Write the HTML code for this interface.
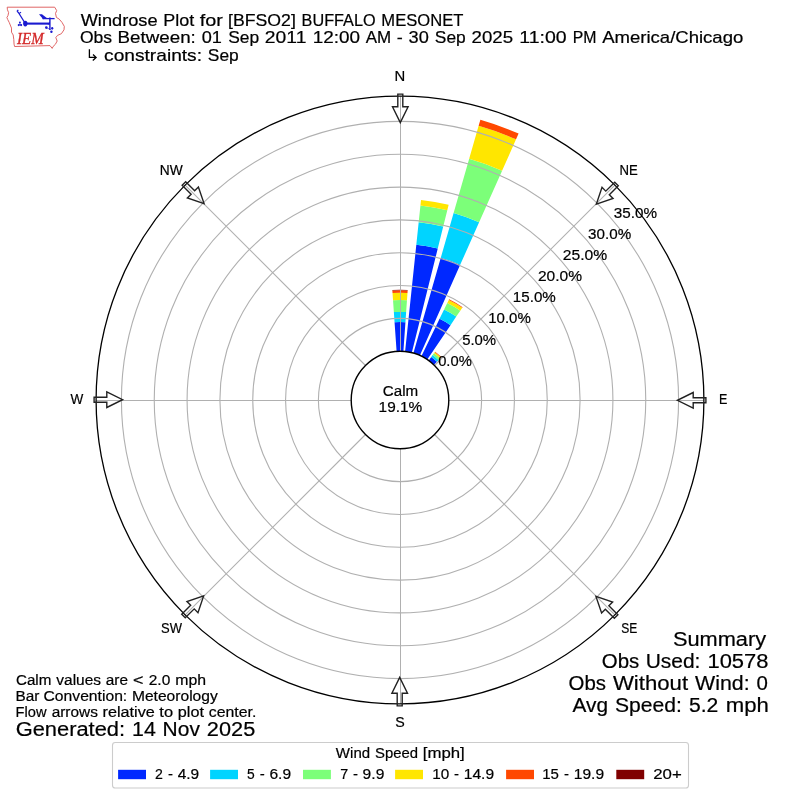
<!DOCTYPE html>
<html><head><meta charset="utf-8"><style>
html,body{margin:0;padding:0;background:#fff;width:800px;height:800px;overflow:hidden}
svg{display:block;will-change:transform}
</style></head><body>
<svg width="800" height="800" viewBox="0 0 800 800" font-family="Liberation Sans, sans-serif" fill="#000">
<rect width="800" height="800" fill="#fff"/>
<g id="logo">
<path d="M7.2 7.2 L54.7 7.2 L56.7 10.6 L55.5 13.4 L56.4 17.4 L59.2 19.1 L62 22.4 L64.3 26.4 L64 29.8 L61.4 33.7 L57.5 35.4 L55.8 37.6 L57.2 41 L55.3 44.4 L53 46.6 L52.2 48.4 L50 45.6 L14.6 46.5 L14.05 44.2 L13.8 39.6 L13.2 35 L11.5 32.2 L11.5 28.1 L9.2 22.4 L7.7 19.5 L6.9 17.5 L8 15.5 L8.6 12.6 L7.45 9.75 Z" fill="none" stroke="#dd5555" stroke-width="0.9" stroke-linejoin="round"/>
<text x="17" y="43.8" font-family="Liberation Serif, serif" font-style="italic" font-size="16.4" fill="#d42a2a" stroke="#d42a2a" stroke-width="0.35" textLength="26.6" lengthAdjust="spacingAndGlyphs">IEM</text>
<g fill="#1a1ad0" stroke="#1a1ad0">
<line x1="25" y1="23.6" x2="49.5" y2="23.6" stroke-width="2.1"/>
<ellipse cx="25.3" cy="23.6" rx="2.2" ry="2.8" stroke="none"/>
<line x1="25" y1="23" x2="18.1" y2="12" stroke-width="1.3"/>
<path d="M18.1 12.4 L17.2 11 L18.3 9.8 M19.1 13.6 L21 12.1" fill="none" stroke-width="1.2"/>
<line x1="49.9" y1="17.6" x2="49.9" y2="30" stroke-width="1.4"/>
<line x1="42.5" y1="18.6" x2="54.6" y2="18.6" stroke-width="1.3"/>
<path d="M39 14.2 L42 14.2 L46.8 17.9 L43.2 19.2 Z" stroke="none"/>
<path d="M47.5 24.6 L50 21.5 L50 24.6 Z" stroke="none"/>
<circle cx="18.8" cy="25.1" r="1.1" stroke="none"/><circle cx="21.1" cy="25.1" r="1.1" stroke="none"/><circle cx="19.9" cy="22.4" r="0.95" stroke="none"/><path d="M19.9 23.2 L18.6 24.6 L21.3 24.6 Z" stroke="none"/>
<circle cx="46.3" cy="27.6" r="1.3" stroke="none"/><ellipse cx="52.2" cy="28.3" rx="1.1" ry="1.4" stroke="none"/><ellipse cx="51.4" cy="31.7" rx="1.2" ry="1.3" stroke="none"/><path d="M47 28 L50.5 29.5" stroke-width="0.6" fill="none"/>
</g>
</g>
<path d="M396.6 351.35L394.56 322.19A78 78 0 0 1 405.44 322.19L403.4 351.35A48.77 48.77 0 0 0 396.6 351.35Z" fill="#0028ff"/>
<path d="M394.56 322.19L393.85 312.11A88.1 88.1 0 0 1 406.15 312.11L405.44 322.19A78 78 0 0 0 394.56 322.19Z" fill="#00d4ff"/>
<path d="M393.85 312.11L393.03 300.34A99.9 99.9 0 0 1 406.97 300.34L406.15 312.11A88.1 88.1 0 0 0 393.85 312.11Z" fill="#7cff79"/>
<path d="M393.03 300.34L392.52 293.06A107.2 107.2 0 0 1 407.48 293.06L406.97 300.34A99.9 99.9 0 0 0 393.03 300.34Z" fill="#ffe600"/>
<path d="M392.52 293.06L392.35 290.57A109.7 109.7 0 0 1 407.65 290.57L407.48 293.06A107.2 107.2 0 0 0 392.52 293.06Z" fill="#ff4800"/>
<path d="M392.35 290.57L392.31 290.07A110.2 110.2 0 0 1 407.69 290.07L407.65 290.57A109.7 109.7 0 0 0 392.35 290.57Z" fill="#800000"/>
<path d="M405.1 351.5L416.32 244.76A156.1 156.1 0 0 1 437.76 248.54L411.8 352.68A48.77 48.77 0 0 0 405.1 351.5Z" fill="#0028ff"/>
<path d="M416.32 244.76L418.68 222.28A178.7 178.7 0 0 1 443.23 226.61L437.76 248.54A156.1 156.1 0 0 0 416.32 244.76Z" fill="#00d4ff"/>
<path d="M418.68 222.28L420.44 205.57A195.5 195.5 0 0 1 447.3 210.31L443.23 226.61A178.7 178.7 0 0 0 418.68 222.28Z" fill="#7cff79"/>
<path d="M420.44 205.57L421.02 200A201.1 201.1 0 0 1 448.65 204.87L447.3 210.31A195.5 195.5 0 0 0 420.44 205.57Z" fill="#ffe600"/>
<path d="M413.44 353.12L440.79 257.73A148 148 0 0 1 460.2 264.8L419.84 355.45A48.77 48.77 0 0 0 413.44 353.12Z" fill="#0028ff"/>
<path d="M440.79 257.73L453.61 213.03A194.5 194.5 0 0 1 479.11 222.32L460.2 264.8A148 148 0 0 0 440.79 257.73Z" fill="#00d4ff"/>
<path d="M453.61 213.03L469.18 158.72A251 251 0 0 1 502.09 170.7L479.11 222.32A194.5 194.5 0 0 0 453.61 213.03Z" fill="#7cff79"/>
<path d="M469.18 158.72L478.64 125.75A285.3 285.3 0 0 1 516.04 139.37L502.09 170.7A251 251 0 0 0 469.18 158.72Z" fill="#ffe600"/>
<path d="M478.64 125.75L480.38 119.7A291.6 291.6 0 0 1 518.6 133.61L516.04 139.37A285.3 285.3 0 0 0 478.64 125.75Z" fill="#ff4800"/>
<path d="M421.38 356.17L439.58 318.84A90.3 90.3 0 0 1 450.5 325.14L427.27 359.57A48.77 48.77 0 0 0 421.38 356.17Z" fill="#0028ff"/>
<path d="M439.58 318.84L444.1 309.58A100.6 100.6 0 0 1 456.25 316.6L450.5 325.14A90.3 90.3 0 0 0 439.58 318.84Z" fill="#00d4ff"/>
<path d="M444.1 309.58L447.26 303.11A107.8 107.8 0 0 1 460.28 310.63L456.25 316.6A100.6 100.6 0 0 0 444.1 309.58Z" fill="#7cff79"/>
<path d="M447.26 303.11L448.79 299.96A111.3 111.3 0 0 1 462.24 307.73L460.28 310.63A107.8 107.8 0 0 0 447.26 303.11Z" fill="#ffe600"/>
<path d="M448.79 299.96L449.1 299.34A112 112 0 0 1 462.63 307.15L462.24 307.73A111.3 111.3 0 0 0 448.79 299.96Z" fill="#ff4800"/>
<path d="M428.67 360.54L431.27 356.96A53.2 53.2 0 0 1 436.96 361.73L433.88 364.92A48.77 48.77 0 0 0 428.67 360.54Z" fill="#0028ff"/>
<path d="M431.27 356.96L432.62 355.1A55.5 55.5 0 0 1 438.55 360.08L436.96 361.73A53.2 53.2 0 0 0 431.27 356.96Z" fill="#00d4ff"/>
<path d="M432.62 355.1L433.97 353.24A57.8 57.8 0 0 1 440.15 358.42L438.55 360.08A55.5 55.5 0 0 0 432.62 355.1Z" fill="#7cff79"/>
<path d="M433.97 353.24L434.74 352.19A59.1 59.1 0 0 1 441.05 357.49L440.15 358.42A57.8 57.8 0 0 0 433.97 353.24Z" fill="#ffe600"/>
<path d="M434.74 352.19L435.09 351.7A59.7 59.7 0 0 1 441.47 357.06L441.05 357.49A59.1 59.1 0 0 0 434.74 352.19Z" fill="#ff4800"/>
<g fill="none" stroke="#b0b0b0" stroke-width="1.1">
<circle cx="400" cy="400" r="81.6"/>
<circle cx="400" cy="400" r="114.43"/>
<circle cx="400" cy="400" r="147.26"/>
<circle cx="400" cy="400" r="180.09"/>
<circle cx="400" cy="400" r="212.92"/>
<circle cx="400" cy="400" r="245.75"/>
<circle cx="400" cy="400" r="278.58"/>
<line x1="400.5" y1="351.23" x2="400.5" y2="96.1" stroke-width="1"/>
<line x1="434.49" y1="365.51" x2="614.89" y2="185.11"/>
<line x1="448.77" y1="400.5" x2="703.9" y2="400.5" stroke-width="1"/>
<line x1="434.49" y1="434.49" x2="614.89" y2="614.89"/>
<line x1="400.5" y1="448.77" x2="400.5" y2="703.9" stroke-width="1"/>
<line x1="365.51" y1="434.49" x2="185.11" y2="614.89"/>
<line x1="351.23" y1="400.5" x2="96.1" y2="400.5" stroke-width="1"/>
<line x1="365.51" y1="365.51" x2="185.11" y2="185.11"/>
</g>
<circle cx="400" cy="400" r="48.8" fill="#fff" stroke="#000" stroke-width="1.4"/>
<circle cx="400" cy="400" r="303.9" fill="none" stroke="#000" stroke-width="1.3"/>
<g fill="none" stroke="#222" stroke-width="1.4" stroke-linejoin="miter">
<polygon transform="translate(400 400) rotate(0)" points="-2.2,-305.9 2.8,-305.9 2.8,-293.2 8.1,-293.2 0.3,-277.4 -7.5,-293.2 -2.2,-293.2"/>
<polygon transform="translate(400 400) rotate(45)" points="-2.2,-305.9 2.8,-305.9 2.8,-293.2 8.1,-293.2 0.3,-277.4 -7.5,-293.2 -2.2,-293.2"/>
<polygon transform="translate(400 400) rotate(90)" points="-2.2,-305.9 2.8,-305.9 2.8,-293.2 8.1,-293.2 0.3,-277.4 -7.5,-293.2 -2.2,-293.2"/>
<polygon transform="translate(400 400) rotate(135)" points="-2.2,-305.9 2.8,-305.9 2.8,-293.2 8.1,-293.2 0.3,-277.4 -7.5,-293.2 -2.2,-293.2"/>
<polygon transform="translate(400 400) rotate(180)" points="-2.2,-305.9 2.8,-305.9 2.8,-293.2 8.1,-293.2 0.3,-277.4 -7.5,-293.2 -2.2,-293.2"/>
<polygon transform="translate(400 400) rotate(225)" points="-2.2,-305.9 2.8,-305.9 2.8,-293.2 8.1,-293.2 0.3,-277.4 -7.5,-293.2 -2.2,-293.2"/>
<polygon transform="translate(400 400) rotate(270)" points="-2.2,-305.9 2.8,-305.9 2.8,-293.2 8.1,-293.2 0.3,-277.4 -7.5,-293.2 -2.2,-293.2"/>
<polygon transform="translate(400 400) rotate(315)" points="-2.2,-305.9 2.8,-305.9 2.8,-293.2 8.1,-293.2 0.3,-277.4 -7.5,-293.2 -2.2,-293.2"/>
</g>
<rect x="112.5" y="742.5" width="576" height="45.5" rx="2.8" fill="#fff" stroke="#cccccc" stroke-width="1.1"/>
<rect x="118.1" y="769.8" width="27.9" height="9.4" fill="#0028ff"/>
<rect x="210.1" y="769.8" width="27.9" height="9.4" fill="#00d4ff"/>
<rect x="303" y="769.8" width="27.9" height="9.4" fill="#7cff79"/>
<rect x="395.1" y="769.8" width="27.9" height="9.4" fill="#ffe600"/>
<rect x="506.1" y="769.8" width="27.9" height="9.4" fill="#ff4800"/>
<rect x="616.3" y="769.8" width="27.9" height="9.4" fill="#800000"/>
<path d="M89.4 49.2V57.4H95.9M93 54.5L96.1 57.4L92.8 60.4" fill="none" stroke="#000" stroke-width="1.3"/>
<g stroke="#000" stroke-width="0.2">
<text x="80.67" y="25.75" font-size="16.19" textLength="76.97" lengthAdjust="spacingAndGlyphs">Windrose</text>
<text x="163.18" y="25.75" font-size="16.19" textLength="30.99" lengthAdjust="spacingAndGlyphs">Plot</text>
<text x="199.84" y="25.75" font-size="16.19" textLength="23.15" lengthAdjust="spacingAndGlyphs">for</text>
<text x="228.13" y="25.75" font-size="16.19" textLength="67.7" lengthAdjust="spacingAndGlyphs">[BFSO2]</text>
<text x="301.62" y="25.75" font-size="16.19" textLength="74.01" lengthAdjust="spacingAndGlyphs">BUFFALO</text>
<text x="381.38" y="25.75" font-size="16.19" textLength="81.96" lengthAdjust="spacingAndGlyphs">MESONET</text>
<text x="79.92" y="43" font-size="16.19" textLength="32.1" lengthAdjust="spacingAndGlyphs">Obs</text>
<text x="117.6" y="43" font-size="16.19" textLength="78.23" lengthAdjust="spacingAndGlyphs">Between:</text>
<text x="201.75" y="43" font-size="16.19" textLength="20.17" lengthAdjust="spacingAndGlyphs">01</text>
<text x="228.18" y="43" font-size="16.19" textLength="30.93" lengthAdjust="spacingAndGlyphs">Sep</text>
<text x="264.87" y="43" font-size="16.19" textLength="41.51" lengthAdjust="spacingAndGlyphs">2011</text>
<text x="312.7" y="43" font-size="16.19" textLength="47.28" lengthAdjust="spacingAndGlyphs">12:00</text>
<text x="365.74" y="43" font-size="16.19" textLength="25.45" lengthAdjust="spacingAndGlyphs">AM</text>
<text x="396.75" y="43" font-size="16.19" textLength="5.98" lengthAdjust="spacingAndGlyphs">-</text>
<text x="408.62" y="43" font-size="16.19" textLength="20.24" lengthAdjust="spacingAndGlyphs">30</text>
<text x="434.87" y="43" font-size="16.19" textLength="30.93" lengthAdjust="spacingAndGlyphs">Sep</text>
<text x="471.56" y="43" font-size="16.19" textLength="41.47" lengthAdjust="spacingAndGlyphs">2025</text>
<text x="519.39" y="43" font-size="16.19" textLength="47.28" lengthAdjust="spacingAndGlyphs">11:00</text>
<text x="572.67" y="43" font-size="16.19" textLength="23.77" lengthAdjust="spacingAndGlyphs">PM</text>
<text x="602.16" y="43" font-size="16.19" textLength="141.15" lengthAdjust="spacingAndGlyphs">America/Chicago</text>
<text x="104.09" y="60.5" font-size="16.19" textLength="97.95" lengthAdjust="spacingAndGlyphs">constraints:</text>
<text x="207.84" y="60.5" font-size="16.19" textLength="30.93" lengthAdjust="spacingAndGlyphs">Sep</text>
<text x="15.98" y="685" font-size="14.72" textLength="35.41" lengthAdjust="spacingAndGlyphs">Calm</text>
<text x="56.35" y="685" font-size="14.72" textLength="44.7" lengthAdjust="spacingAndGlyphs">values</text>
<text x="105.76" y="685" font-size="14.72" textLength="22.23" lengthAdjust="spacingAndGlyphs">are</text>
<text x="133.04" y="685" font-size="14.72" textLength="10.45" lengthAdjust="spacingAndGlyphs">&lt;</text>
<text x="148.75" y="685" font-size="14.72" textLength="21.53" lengthAdjust="spacingAndGlyphs">2.0</text>
<text x="175.22" y="685" font-size="14.72" textLength="30.79" lengthAdjust="spacingAndGlyphs">mph</text>
<text x="15.49" y="701" font-size="14.72" textLength="23.9" lengthAdjust="spacingAndGlyphs">Bar</text>
<text x="43.54" y="701" font-size="14.72" textLength="83.68" lengthAdjust="spacingAndGlyphs">Convention:</text>
<text x="131.91" y="701" font-size="14.72" textLength="85.85" lengthAdjust="spacingAndGlyphs">Meteorology</text>
<text x="15.55" y="717.2" font-size="14.72" textLength="30.93" lengthAdjust="spacingAndGlyphs">Flow</text>
<text x="51.69" y="717.2" font-size="14.72" textLength="46.18" lengthAdjust="spacingAndGlyphs">arrows</text>
<text x="102.59" y="717.2" font-size="14.72" textLength="52.19" lengthAdjust="spacingAndGlyphs">relative</text>
<text x="159.33" y="717.2" font-size="14.72" textLength="13.75" lengthAdjust="spacingAndGlyphs">to</text>
<text x="177.78" y="717.2" font-size="14.72" textLength="26.19" lengthAdjust="spacingAndGlyphs">plot</text>
<text x="208.71" y="717.2" font-size="14.72" textLength="47.65" lengthAdjust="spacingAndGlyphs">center.</text>
<text x="15.65" y="735.5" font-size="19.5" textLength="109.42" lengthAdjust="spacingAndGlyphs">Generated:</text>
<text x="132.03" y="735.5" font-size="19.5" textLength="23.76" lengthAdjust="spacingAndGlyphs">14</text>
<text x="162.63" y="735.5" font-size="19.5" textLength="37.24" lengthAdjust="spacingAndGlyphs">Nov</text>
<text x="206.89" y="735.5" font-size="19.5" textLength="48.36" lengthAdjust="spacingAndGlyphs">2025</text>
<text x="672.93" y="645.8" font-size="19.5" textLength="93.11" lengthAdjust="spacingAndGlyphs">Summary</text>
<text x="601.78" y="667.6" font-size="19.5" textLength="37.43" lengthAdjust="spacingAndGlyphs">Obs</text>
<text x="645.67" y="667.6" font-size="19.5" textLength="54.78" lengthAdjust="spacingAndGlyphs">Used:</text>
<text x="707.45" y="667.6" font-size="19.5" textLength="61" lengthAdjust="spacingAndGlyphs">10578</text>
<text x="568.56" y="689.6" font-size="19.5" textLength="37.43" lengthAdjust="spacingAndGlyphs">Obs</text>
<text x="612.93" y="689.6" font-size="19.5" textLength="75.12" lengthAdjust="spacingAndGlyphs">Without</text>
<text x="695.09" y="689.6" font-size="19.5" textLength="54.53" lengthAdjust="spacingAndGlyphs">Wind:</text>
<text x="756.6" y="689.6" font-size="19.5" textLength="11.4" lengthAdjust="spacingAndGlyphs">0</text>
<text x="572.62" y="711.5" font-size="19.5" textLength="35.45" lengthAdjust="spacingAndGlyphs">Avg</text>
<text x="615.01" y="711.5" font-size="19.5" textLength="66.82" lengthAdjust="spacingAndGlyphs">Speed:</text>
<text x="689.01" y="711.5" font-size="19.5" textLength="29.38" lengthAdjust="spacingAndGlyphs">5.2</text>
<text x="725.75" y="711.5" font-size="19.5" textLength="43.09" lengthAdjust="spacingAndGlyphs">mph</text>
<text x="382.76" y="395.8" font-size="14.72" textLength="35.41" lengthAdjust="spacingAndGlyphs">Calm</text>
<text x="378.61" y="412" font-size="14.72" textLength="43.55" lengthAdjust="spacingAndGlyphs">19.1%</text>
<text x="394.58" y="81" font-size="14.72" textLength="10.73" lengthAdjust="spacingAndGlyphs">N</text>
<text x="718.97" y="404" font-size="14.72" textLength="8.37" lengthAdjust="spacingAndGlyphs">E</text>
<text x="395.25" y="726.9" font-size="14.72" textLength="9.5" lengthAdjust="spacingAndGlyphs">S</text>
<text x="70.44" y="403.6" font-size="14.72" textLength="12.81" lengthAdjust="spacingAndGlyphs">W</text>
<text x="159.87" y="175" font-size="14.72" textLength="22.93" lengthAdjust="spacingAndGlyphs">NW</text>
<text x="619.52" y="175" font-size="14.72" textLength="18.3" lengthAdjust="spacingAndGlyphs">NE</text>
<text x="161.01" y="633.1" font-size="14.72" textLength="20.93" lengthAdjust="spacingAndGlyphs">SW</text>
<text x="621.35" y="633.1" font-size="14.72" textLength="16.06" lengthAdjust="spacingAndGlyphs">SE</text>
<text x="335.88" y="758" font-size="14.72" textLength="34.22" lengthAdjust="spacingAndGlyphs">Wind</text>
<text x="375.05" y="758" font-size="14.72" textLength="43" lengthAdjust="spacingAndGlyphs">Speed</text>
<text x="422.76" y="758" font-size="14.72" textLength="42" lengthAdjust="spacingAndGlyphs">[mph]</text>
<text x="155.03" y="779.25" font-size="14.72" textLength="7.85" lengthAdjust="spacingAndGlyphs">2</text>
<text x="167.99" y="779.25" font-size="14.72" textLength="4.99" lengthAdjust="spacingAndGlyphs">-</text>
<text x="177.72" y="779.25" font-size="14.72" textLength="21.52" lengthAdjust="spacingAndGlyphs">4.9</text>
<text x="247.09" y="779.25" font-size="14.72" textLength="7.69" lengthAdjust="spacingAndGlyphs">5</text>
<text x="259.83" y="779.25" font-size="14.72" textLength="4.99" lengthAdjust="spacingAndGlyphs">-</text>
<text x="269.43" y="779.25" font-size="14.72" textLength="21.67" lengthAdjust="spacingAndGlyphs">6.9</text>
<text x="340.19" y="779.25" font-size="14.72" textLength="7.97" lengthAdjust="spacingAndGlyphs">7</text>
<text x="353.05" y="779.25" font-size="14.72" textLength="4.99" lengthAdjust="spacingAndGlyphs">-</text>
<text x="362.61" y="779.25" font-size="14.72" textLength="21.71" lengthAdjust="spacingAndGlyphs">9.9</text>
<text x="432.24" y="779.25" font-size="14.72" textLength="16.99" lengthAdjust="spacingAndGlyphs">10</text>
<text x="453.98" y="779.25" font-size="14.72" textLength="4.99" lengthAdjust="spacingAndGlyphs">-</text>
<text x="463.73" y="779.25" font-size="14.72" textLength="30.35" lengthAdjust="spacingAndGlyphs">14.9</text>
<text x="542.26" y="779.25" font-size="14.72" textLength="16.71" lengthAdjust="spacingAndGlyphs">15</text>
<text x="563.98" y="779.25" font-size="14.72" textLength="4.99" lengthAdjust="spacingAndGlyphs">-</text>
<text x="573.73" y="779.25" font-size="14.72" textLength="30.35" lengthAdjust="spacingAndGlyphs">19.9</text>
<text x="653.24" y="779.25" font-size="14.72" textLength="28.5" lengthAdjust="spacingAndGlyphs">20+</text>
<text x="438.17" y="365.6" font-size="14.72" textLength="33.6" lengthAdjust="spacingAndGlyphs">0.0%</text>
<text x="462.15" y="344.53" font-size="14.72" textLength="33.98" lengthAdjust="spacingAndGlyphs">5.0%</text>
<text x="488.26" y="323.46" font-size="14.72" textLength="42.53" lengthAdjust="spacingAndGlyphs">10.0%</text>
<text x="512.85" y="302.39" font-size="14.72" textLength="42.94" lengthAdjust="spacingAndGlyphs">15.0%</text>
<text x="537.97" y="281.32" font-size="14.72" textLength="44.09" lengthAdjust="spacingAndGlyphs">20.0%</text>
<text x="562.71" y="260.25" font-size="14.72" textLength="44.45" lengthAdjust="spacingAndGlyphs">25.0%</text>
<text x="588.12" y="239.18" font-size="14.72" textLength="43.07" lengthAdjust="spacingAndGlyphs">30.0%</text>
<text x="613.82" y="218.11" font-size="14.72" textLength="43.22" lengthAdjust="spacingAndGlyphs">35.0%</text>
</g>
</svg>
</body></html>
